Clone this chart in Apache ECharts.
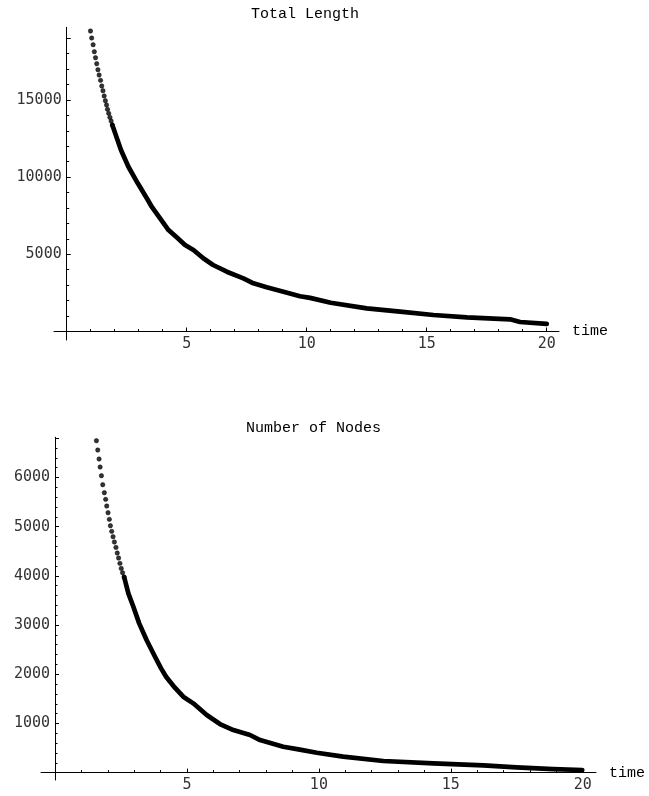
<!DOCTYPE html>
<html>
<head>
<meta charset="utf-8">
<script src="https://cdn.jsdelivr.net/npm/echarts@6/dist/echarts.min.js"></script>
<style>
  html, body { margin: 0; padding: 0; background: #fff; }
  #chart { width: 649px; height: 796px; }
</style>
</head>
<body>
<div id="chart"></div>
<script>
// Total length vs time: early samples drawn as separate dots
const lengthDotTime = [0.99, 1.04, 1.10, 1.15, 1.20, 1.25, 1.30, 1.35, 1.41, 1.46, 1.51, 1.56, 1.61, 1.66, 1.70, 1.75, 1.80, 1.85, 1.90];
const lengthDotValue = [19457, 19004, 18572, 18119, 17731, 17342, 16953, 16608, 16263, 15896, 15594, 15251, 14946, 14666, 14385, 14126, 13867, 13630, 13371];
// Total length vs time: dense samples that merge into a thick trace
const lengthTraceTime = [2.26, 2.57, 2.96, 3.38, 3.54, 3.89, 4.24, 4.58, 4.93, 5.28, 5.69, 6.10, 6.67, 7.36, 7.78, 8.33, 9.03, 9.72, 10.14, 11.0, 12.5, 13.89, 15.28, 16.67, 18.47, 18.89, 20.0];
const lengthTraceValue = [11750, 10671, 9596, 8515, 8081, 7330, 6572, 6100, 5601, 5277, 4740, 4306, 3872, 3444, 3121, 2862, 2577, 2280, 2180, 1865, 1502, 1282, 1068, 919, 790, 615, 490];

// Number of nodes vs time
const nodeDotTime = [1.57, 1.62, 1.67, 1.71, 1.76, 1.81, 1.87, 1.92, 1.96, 2.01, 2.06, 2.10, 2.15, 2.20, 2.25, 2.31, 2.36, 2.41, 2.46, 2.51, 2.56, 2.62];
const nodeDotValue = [6751, 6561, 6378, 6215, 6039, 5856, 5693, 5558, 5422, 5286, 5151, 5022, 4907, 4798, 4690, 4581, 4466, 4364, 4256, 4154, 4066, 3978];
const nodeTraceTime = [2.78, 2.97, 3.19, 3.47, 3.79, 4.02, 4.21, 4.49, 4.86, 5.24, 5.75, 6.25, 6.76, 7.39, 7.77, 8.65, 9.28, 9.92, 10.92, 12.44, 14.34, 16.23, 17.49, 18.88, 19.98];
const nodeTraceValue = [3646, 3374, 3036, 2697, 2357, 2121, 1950, 1761, 1544, 1409, 1171, 988, 866, 765, 663, 527, 467, 405, 324, 236, 189, 148, 108, 73, 53];

// Tick values
const timeTicks = [5, 10, 15, 20];
const lengthTicks = [5000, 10000, 15000];
const nodeTicks = [1000, 2000, 3000, 4000, 5000, 6000];

const pairs = (xs, ys) => xs.map((x, i) => [x, ys[i]]);

const monoTitle = { fontFamily: 'Liberation Mono', fontSize: 15, color: '#000', fontWeight: 'normal' };
const tickFont = { fontFamily: 'DejaVu Sans Mono', fontSize: 15, color: '#333' };
const blackLine = { color: '#000', width: 1 };

// Axis carrying just the line (extends a little past the origin and ends)
function lineAxis(gridIndex, min, max, extra) {
  return Object.assign({
    type: 'value', gridIndex, min, max,
    axisLine: { show: true, onZero: true, lineStyle: blackLine },
    axisTick: { show: false }, axisLabel: { show: false },
    splitLine: { show: false }
  }, extra || {});
}
// Axis carrying ticks and labels
function tickAxis(gridIndex, min, max, interval, shown) {
  return {
    type: 'value', gridIndex, min, max, interval,
    axisLine: { show: true, onZero: true, lineStyle: blackLine },
    axisTick: { show: true, inside: true, length: 4, lineStyle: blackLine },
    minorTick: { show: true, splitNumber: 5, length: 2.5, lineStyle: blackLine },
    axisLabel: Object.assign({
      margin: 5,
      formatter: v => (shown.indexOf(v) >= 0 ? String(v) : '')
    }, tickFont),
    splitLine: { show: false }, minorSplitLine: { show: false }
  };
}

const nameStyle = { fontFamily: 'Liberation Mono', fontSize: 15, color: '#000', verticalAlign: 'middle' };

const dotStyle = { color: '#000', borderColor: '#000', borderWidth: 0.6 };
const traceStyle = { color: '#000', width: 4.7, cap: 'round', join: 'round' };

const option = {
  animation: false,
  backgroundColor: '#fff',
  title: [
    { text: 'Total Length', left: 251, top: 7, padding: 0, textStyle: monoTitle },
    { text: 'Number of Nodes', left: 246, top: 421, padding: 0, textStyle: monoTitle }
  ],
  grid: [
    { left: 54, right: 90, top: 27.3, bottom: 456 },
    { left: 66.7, right: 102.3, top: 38.1, bottom: 464.5 },
    { left: 41, right: 53, top: 437.3, bottom: 16 },
    { left: 55, right: 66.2, top: 438.2, bottom: 23.4 }
  ],
  xAxis: [
    lineAxis(0, -0.53, 20.51, { name: 'time', nameLocation: 'end', nameGap: 13, nameTextStyle: nameStyle }),
    tickAxis(1, 0, 20, 5, timeTicks),
    lineAxis(2, -0.53, 20.5, { name: 'time', nameLocation: 'end', nameGap: 13, nameTextStyle: nameStyle }),
    tickAxis(3, 0, 20, 5, timeTicks)
  ],
  yAxis: [
    lineAxis(0, -550, 19700),
    tickAxis(1, 0, 19000, 5000, lengthTicks),
    lineAxis(2, -150, 6820),
    tickAxis(3, 0, 6800, 1000, nodeTicks)
  ],
  series: [
    {
      type: 'scatter', xAxisIndex: 0, yAxisIndex: 0,
      data: pairs(lengthDotTime, lengthDotValue),
      symbol: 'circle', symbolSize: 4.4, itemStyle: dotStyle, silent: true
    },
    {
      type: 'line', xAxisIndex: 0, yAxisIndex: 0,
      data: [[lengthDotTime[lengthDotTime.length - 1], lengthDotValue[lengthDotValue.length - 1]]]
        .concat(pairs(lengthTraceTime, lengthTraceValue)),
      showSymbol: false, symbol: 'none', lineStyle: traceStyle, silent: true
    },
    {
      type: 'scatter', xAxisIndex: 2, yAxisIndex: 2,
      data: pairs(nodeDotTime, nodeDotValue),
      symbol: 'circle', symbolSize: 4.4, itemStyle: dotStyle, silent: true
    },
    {
      type: 'line', xAxisIndex: 2, yAxisIndex: 2,
      data: [[nodeDotTime[nodeDotTime.length - 1], nodeDotValue[nodeDotValue.length - 1]]]
        .concat(pairs(nodeTraceTime, nodeTraceValue)),
      showSymbol: false, symbol: 'none', lineStyle: traceStyle, silent: true
    }
  ]
};

const chart = echarts.init(document.getElementById('chart'), null, { renderer: 'canvas' });
chart.setOption(option);
</script>
</body>
</html>
